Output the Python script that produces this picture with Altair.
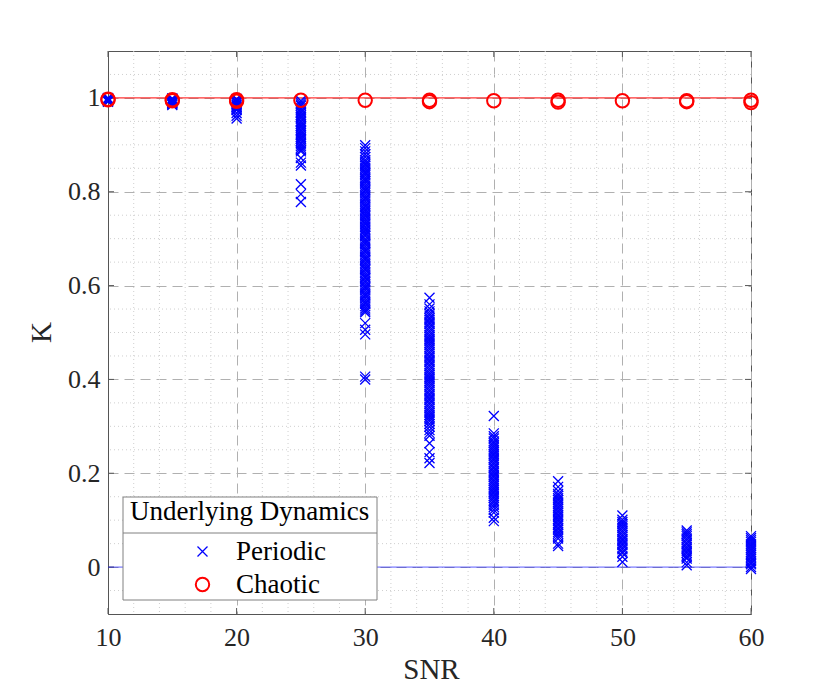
import altair as alt
import pandas as pd

# ---------------- data ----------------
snr_levels = [10, 15, 20, 25, 30, 35, 40, 45, 50, 55, 60]
categories = ["Periodic", "Chaotic"]

periodic = {
    10: [1.000, 0.999, 0.998, 0.998, 0.997, 0.996, 0.995, 0.994, 0.993, 0.992],
    15: [0.999, 0.998, 0.996, 0.995, 0.993, 0.992, 0.990, 0.989, 0.987, 0.985],
    20: [0.998, 0.996, 0.993, 0.991, 0.989, 0.986, 0.984, 0.981, 0.979, 0.976,
         0.974, 0.968, 0.962, 0.956],
    25: [0.994, 0.990, 0.986, 0.983, 0.978, 0.975, 0.971, 0.968, 0.963, 0.960,
         0.956, 0.951, 0.948, 0.944, 0.940, 0.937, 0.932, 0.929, 0.925, 0.921,
         0.916, 0.913, 0.909, 0.904, 0.901, 0.897, 0.893, 0.889, 0.886, 0.872,
         0.862, 0.856, 0.816, 0.795, 0.778],
    30: [0.899, 0.893, 0.886, 0.880, 0.874, 0.868, 0.864, 0.859, 0.856, 0.851,
         0.847, 0.842, 0.839, 0.835, 0.830, 0.826, 0.823, 0.818, 0.813, 0.809,
         0.805, 0.802, 0.797, 0.792, 0.788, 0.785, 0.780, 0.775, 0.771, 0.768,
         0.763, 0.759, 0.754, 0.750, 0.747, 0.742, 0.737, 0.733, 0.730, 0.725,
         0.720, 0.717, 0.712, 0.708, 0.705, 0.699, 0.695, 0.691, 0.688, 0.683,
         0.678, 0.674, 0.671, 0.666, 0.661, 0.657, 0.654, 0.649, 0.645, 0.640,
         0.636, 0.633, 0.628, 0.623, 0.619, 0.616, 0.611, 0.607, 0.602, 0.598,
         0.595, 0.590, 0.585, 0.581, 0.578, 0.573, 0.568, 0.564, 0.561, 0.556,
         0.551, 0.547, 0.543, 0.520, 0.506, 0.496, 0.406, 0.400],
    35: [0.574, 0.560, 0.551, 0.545, 0.540, 0.536, 0.531, 0.527, 0.522, 0.518,
         0.513, 0.509, 0.504, 0.500, 0.495, 0.491, 0.486, 0.482, 0.477, 0.473,
         0.468, 0.464, 0.459, 0.455, 0.450, 0.446, 0.441, 0.437, 0.432, 0.428,
         0.423, 0.419, 0.414, 0.410, 0.405, 0.401, 0.396, 0.392, 0.387, 0.383,
         0.378, 0.374, 0.369, 0.365, 0.360, 0.356, 0.351, 0.347, 0.342, 0.338,
         0.333, 0.329, 0.324, 0.320, 0.315, 0.311, 0.305, 0.299, 0.292, 0.286,
         0.280, 0.264, 0.245, 0.232, 0.222],
    40: [0.322, 0.285, 0.279, 0.274, 0.268, 0.264, 0.259, 0.255, 0.250, 0.246,
         0.241, 0.237, 0.232, 0.228, 0.223, 0.219, 0.214, 0.210, 0.205, 0.201,
         0.196, 0.192, 0.187, 0.183, 0.178, 0.174, 0.169, 0.165, 0.160, 0.156,
         0.151, 0.147, 0.142, 0.138, 0.133, 0.128, 0.122, 0.116, 0.105, 0.098],
    45: [0.183, 0.171, 0.162, 0.156, 0.152, 0.147, 0.143, 0.138, 0.134, 0.129,
         0.125, 0.120, 0.116, 0.111, 0.107, 0.102, 0.098, 0.093, 0.089, 0.084,
         0.080, 0.075, 0.071, 0.066, 0.061, 0.050, 0.045],
    50: [0.110, 0.101, 0.096, 0.092, 0.087, 0.083, 0.078, 0.074, 0.069, 0.065,
         0.060, 0.056, 0.051, 0.047, 0.042, 0.038, 0.033, 0.030, 0.022, 0.011],
    55: [0.078, 0.074, 0.070, 0.066, 0.061, 0.057, 0.052, 0.048, 0.043, 0.039,
         0.034, 0.030, 0.025, 0.021, 0.018, 0.010, 0.004],
    60: [0.066, 0.062, 0.058, 0.054, 0.049, 0.045, 0.040, 0.036, 0.031, 0.027,
         0.022, 0.018, 0.013, 0.009, 0.006, 0.000, -0.004],
}

chaotic = {
    10: [0.997, 0.996], 15: [0.996, 0.994], 20: [0.996, 0.993], 25: [0.995],
    30: [0.995], 35: [0.995, 0.992], 40: [0.994], 45: [0.995, 0.991],
    50: [0.994], 55: [0.994, 0.992], 60: [0.995, 0.990],
}

ref_snr = [10, 60]
periodic_ref = [0, 0]
chaotic_ref = [1, 1]

x_major = [10, 20, 30, 40, 50, 60]
x_minor = [12, 14, 16, 18, 22, 24, 26, 28, 32, 34, 36, 38,
           42, 44, 46, 48, 52, 54, 56, 58]
y_major = [0, 0.2, 0.4, 0.6, 0.8, 1.0]
y_minor = [-0.05, 0.05, 0.1, 0.15, 0.25, 0.3, 0.35, 0.45, 0.5, 0.55,
           0.65, 0.7, 0.75, 0.85, 0.9, 0.95, 1.05]

# ---------------- tables ----------------
rows = []
for s in snr_levels:
    for v in periodic[s]:
        rows.append({"SNR": s, "K": v, "Dynamics": "Periodic"})
for s in snr_levels:
    for v in chaotic[s]:
        rows.append({"SNR": s, "K": v, "Dynamics": "Chaotic"})
pts = pd.DataFrame(rows)

ref_p = pd.DataFrame({"SNR": ref_snr, "K": periodic_ref})
ref_c = pd.DataFrame({"SNR": ref_snr, "K": chaotic_ref})
xmin_df = pd.DataFrame({"SNR": x_minor})
ymin_df = pd.DataFrame({"K": y_minor})
xmaj_df = pd.DataFrame({"SNR": x_major})
ymaj_df = pd.DataFrame({"K": y_major})
one = pd.DataFrame({"a": [0]})

W, H = 643, 563
FONT = "'Liberation Serif', 'DejaVu Serif', serif"
XPATH = "M-1,-1L1,1M1,-1L-1,1"

xscale = alt.Scale(domain=[10, 60], nice=False, zero=False)
yscale = alt.Scale(domain=[-0.1, 1.1], nice=False, zero=False)
xaxis = alt.Axis(values=x_major, title="SNR", grid=True, gridDash=[10, 6],
                 gridColor="#b0b0b0", ticks=False, labelPadding=10,
                 labelFlush=False, labelOverlap=False, titleX=323, titleY=64,
                 titleBaseline="alphabetic")
yaxis = alt.Axis(values=y_major, title="K", grid=True, gridDash=[10, 6],
                 gridColor="#b0b0b0", ticks=False, labelPadding=8,
                 labelFlush=False, labelOverlap=False,
                 labelExpr="datum.value == 0 ? '0' : datum.value == 1 ? '1' : format(datum.value, '.1f')",
                 titleAngle=270, titleX=-58, titleY=281,
                 titleBaseline="alphabetic")


def X(f="SNR"):
    return alt.X(f"{f}:Q", scale=xscale, axis=xaxis)


def Y(f="K"):
    return alt.Y(f"{f}:Q", scale=yscale, axis=yaxis)


minor_x = alt.Chart(xmin_df).mark_rule(color="#cfcfcf", strokeDash=[1, 3], strokeWidth=1).encode(x=X())
minor_y = alt.Chart(ymin_df).mark_rule(color="#cfcfcf", strokeDash=[1, 3], strokeWidth=1).encode(y=Y())

line_p = alt.Chart(ref_p).mark_line(color="#0000ff", strokeWidth=1, opacity=0.65).encode(x=X(), y=Y())
line_c = alt.Chart(ref_c).mark_line(color="#ff0000", strokeWidth=1).encode(x=X(), y=Y())

leg = alt.Legend(title="Underlying Dynamics", orient="none", legendX=22, legendY=448,
                 padding=0, titleFont=FONT, titleFontSize=27, titleFontWeight="normal",
                 titleColor="#000000", titleLimit=400, titlePadding=12,
                 labelFont=FONT, labelFontSize=27, labelColor="#000000",
                 symbolOffset=59, labelOffset=20, rowPadding=5)

points = alt.Chart(pts).mark_point(filled=False, opacity=1).encode(
    x=X(), y=Y(),
    color=alt.Color("Dynamics:N", scale=alt.Scale(domain=categories, range=["#0000ff", "#ff0000"]), legend=leg),
    shape=alt.Shape("Dynamics:N", scale=alt.Scale(domain=categories, range=[XPATH, "circle"]), legend=leg),
    size=alt.Size("Dynamics:N", scale=alt.Scale(domain=categories, range=[100, 180]), legend=leg),
    strokeWidth=alt.StrokeWidth("Dynamics:N", scale=alt.Scale(domain=categories, range=[1.3, 2.0]), legend=leg),
)

ticks_b = alt.Chart(xmaj_df).mark_rule(color="#555555").encode(x=X(), y=alt.value(H - 6), y2=alt.value(H))
ticks_t = alt.Chart(xmaj_df).mark_rule(color="#555555").encode(x=X(), y=alt.value(0), y2=alt.value(6))
ticks_l = alt.Chart(ymaj_df).mark_rule(color="#555555").encode(y=Y(), x=alt.value(0), x2=alt.value(6))
ticks_r = alt.Chart(ymaj_df).mark_rule(color="#555555").encode(y=Y(), x=alt.value(W - 6), x2=alt.value(W))

legend_box = alt.Chart(one).mark_rect(fill="white", stroke="#808080", strokeWidth=1).encode(
    x=alt.value(15), x2=alt.value(269), y=alt.value(446), y2=alt.value(549))
legend_sep = alt.Chart(one).mark_rule(color="#808080", strokeWidth=1).encode(
    x=alt.value(15), x2=alt.value(269), y=alt.value(482))

chart = alt.layer(
    minor_x, minor_y, ticks_b, ticks_t, ticks_l, ticks_r,
    line_p, line_c, points, legend_box, legend_sep
).properties(
    width=W, height=H,
    autosize=alt.AutoSizeParams(type="none"),
    padding={"left": 100, "top": 43, "right": 71, "bottom": 70},
).configure(
    font=FONT,
).configure_view(
    stroke="#555555", strokeWidth=1,
).configure_axis(
    domainColor="#555555", domainWidth=1,
    labelFont=FONT, labelFontSize=26, labelColor="#262626",
    titleFont=FONT, titleFontSize=29, titleFontWeight="normal", titleColor="#262626",
).configure_legend(
    labelFont=FONT, titleFont=FONT, labelFontSize=27, titleFontSize=27,
    titleFontWeight="normal", labelColor="#000000", titleColor="#000000",
)

chart.save("out.html", embed_options={"renderer": "svg", "actions": False})
